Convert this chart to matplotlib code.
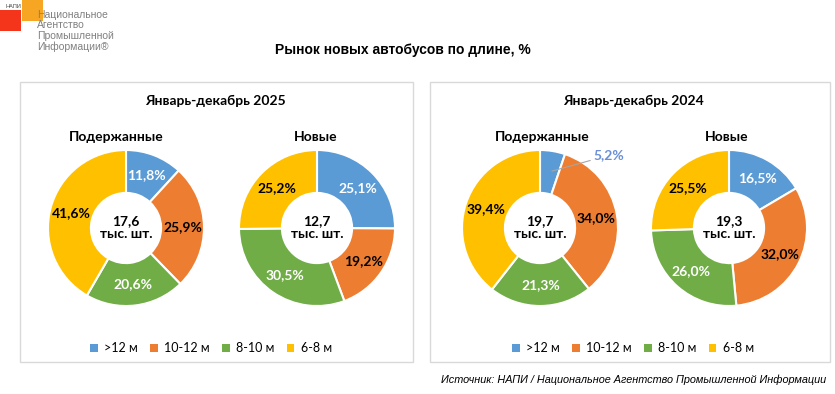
import numpy as np
import matplotlib
matplotlib.use('Agg')
import matplotlib.pyplot as plt
from matplotlib.patches import Rectangle, Patch
from matplotlib import font_manager

W, H = 835, 394

# данные
categories = ['>12 м', '10-12 м', '8-10 м', '6-8 м']
colors = ['#5B9BD5', '#ED7D31', '#70AD47', '#FFC000']
label_colors = ['white', 'black', 'white', 'black']

used_2025 = [11.8, 25.9, 20.6, 41.6]
new_2025 = [25.1, 19.2, 30.5, 25.2]
used_2024 = [5.2, 34.0, 21.3, 39.4]
new_2024 = [16.5, 32.0, 26.0, 25.5]

total_used_2025 = '17,6'
total_new_2025 = '12,7'
total_used_2024 = '19,7'
total_new_2024 = '19,3'

title = 'Рынок новых автобусов по длине, %'
panel_titles = ['Январь-декабрь 2025', 'Январь-декабрь 2024']
source = 'Источник: НАПИ / Национальное Агентство Промышленной Информации'

FONT = 'Lato'
names = {f.name for f in font_manager.fontManager.ttflist}
LOGO_FONT = 'Liberation Sans Narrow' if 'Liberation Sans Narrow' in names else 'Liberation Sans'


def fx(px):
    return px / W


def fy(py):
    return 1 - py / H


fig = plt.figure(figsize=(W / 100, H / 100), dpi=100)
fig.patch.set_facecolor('white')

# рамки панелей
for (x0, x1) in [(20, 413), (430, 830)]:
    fig.add_artist(Rectangle((fx(x0), fy(362)), fx(x1) - fx(x0), fy(82) - fy(362),
                             transform=fig.transFigure, fill=False,
                             edgecolor='#D9D9D9', linewidth=1.0))

fig.text(fx(403), fy(50), title, ha='center', va='center', fontsize=10,
         fontweight='bold', family='Liberation Sans')

fig.text(fx(215), fy(101), panel_titles[0], ha='center', va='center',
         fontsize=10, fontweight='bold', family=FONT)
fig.text(fx(633), fy(101), panel_titles[1], ha='center', va='center',
         fontsize=10, fontweight='bold', family=FONT)


def donut(cx, cy, values, total, subtitle, sub_x, outside=None):
    r = 78
    ax = fig.add_axes([fx(cx - r), fy(cy + r), 2 * r / W, 2 * r / H])
    wedges, _ = ax.pie(values, colors=colors, startangle=90, counterclock=False,
                       radius=1,
                       wedgeprops=dict(width=0.55, edgecolor='white', linewidth=1.5))
    ax.set_xlim(-1, 1)
    ax.set_ylim(-1, 1)
    ax.set_aspect('equal')
    ax.axis('off')
    for i, (w, v) in enumerate(zip(wedges, values)):
        ang = np.deg2rad((w.theta1 + w.theta2) / 2)
        txt = f'{v:.1f}%'.replace('.', ',')
        if outside is not None and i == outside:
            x, y = 0.73 * np.cos(ang), 0.73 * np.sin(ang)
            ax.annotate(txt, xy=(x, y), xytext=(0.68, 0.93), textcoords='data',
                        ha='left', va='center', fontsize=10, fontweight='bold',
                        family=FONT, color='#6A8FD8', annotation_clip=False,
                        arrowprops=dict(arrowstyle='-', color='#A6A6A6', lw=0.8,
                                        shrinkA=0, shrinkB=2))
            continue
        ax.text(0.73 * np.cos(ang), 0.73 * np.sin(ang), txt, ha='center', va='center',
                fontsize=10, fontweight='bold', family=FONT, color=label_colors[i])
    ax.text(0, 0, f'{total}\nтыс. шт.', ha='center', va='center', fontsize=10,
            fontweight='bold', family=FONT, linespacing=1.1)
    fig.text(fx(sub_x), fy(137), subtitle, ha='center', va='center', fontsize=10,
             fontweight='bold', family=FONT)


donut(126, 228, used_2025, total_used_2025, 'Подержанные', 116)
donut(317, 228, new_2025, total_new_2025, 'Новые', 316)
donut(540, 228, used_2024, total_used_2024, 'Подержанные', 542, outside=0)
donut(729, 228, new_2024, total_new_2024, 'Новые', 727)

handles = [Patch(facecolor=c, edgecolor='none') for c in colors]
for lx in [211, 633]:
    fig.legend(handles, categories, loc='center', bbox_to_anchor=(fx(lx), fy(348)),
               ncol=4, frameon=False, handlelength=0.6, handleheight=0.6,
               handletextpad=0.5, columnspacing=1.0,
               prop=dict(family=FONT, size=9))

# логотип
fig.add_artist(Rectangle((0, fy(31)), fx(21), fy(10) - fy(31), transform=fig.transFigure,
                         facecolor='#F4341B', edgecolor='none'))
fig.add_artist(Rectangle((fx(22), fy(21)), fx(21), fy(0) - fy(21), transform=fig.transFigure,
                         facecolor='#F6A623', edgecolor='none'))
fig.text(fx(5), fy(6), 'НАПИ', ha='left', va='center', fontsize=4, family='Liberation Sans',
         color='#404040')
logo_lines = ['Национальное', 'Агентство', 'Промышленной', 'Информации®']
for i, line in enumerate(logo_lines):
    fig.text(fx(37), fy(15 + i * 10.5), line, ha='left', va='center', fontsize=7.5,
             family=LOGO_FONT, color='#808080')

fig.text(fx(826), fy(380), source, ha='right', va='center', fontsize=7.8,
         style='italic', family='Liberation Sans')

fig.savefig('out.png', dpi=100, facecolor='white')
